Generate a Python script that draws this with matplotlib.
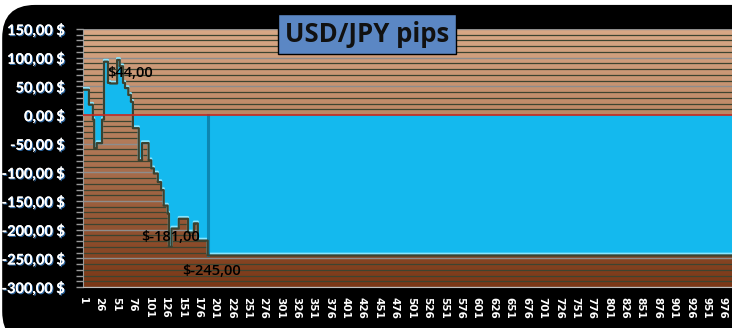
import numpy as np
import matplotlib
matplotlib.use('Agg')
import matplotlib.pyplot as plt
from matplotlib.patches import FancyBboxPatch
import matplotlib.patheffects as pe

# run-length description of the pips series (category start, value)
seg_start = [1, 10, 16, 18, 22, 30, 33, 39, 42, 53, 57, 62, 65, 70, 74,
             77, 86, 91, 101, 105, 109, 115, 120, 124, 130, 132, 136, 147,
             161, 170, 176, 191]
seg_value = [44, 18, -8, -58, -49, -8, 93, 56, 55, 96, 85, 56, 47, 35, 23,
             -23, -79, -49, -79, -93, -102, -117, -131, -158, -172, -230,
             -198, -181, -205, -189, -219, -245]
n_cat = 990
tick_cats = list(range(1, 977, 25))
ytick_vals = list(range(-300, 151, 50))
labels_txt = ['$44,00', '$-181,00', '$-245,00']
labels_pos = [(38, 74), (89, -213), (152, -272)]

lengths = np.diff(seg_start + [n_cat + 1])
pips = np.repeat(seg_value, lengths)
cats = np.arange(1, n_cat + 1)

fig = plt.figure(figsize=(7.32, 3.28), dpi=100)
fig.patch.set_facecolor('white')
frame = FancyBboxPatch((0.003, -0.05), 1.05, 1.035, transform=fig.transFigure,
                       boxstyle='round,pad=0,rounding_size=0.045',
                       fc='black', ec='none', mutation_aspect=732/328, zorder=-5)
fig.patches.append(frame)

ax = fig.add_axes([83/732, 1-287/328, 1-83/732, (287-29)/328])
ax.set_zorder(2)
ax.set_xlim(1, n_cat)
ax.set_ylim(-300, 150)

# brown gradient background
grad = np.linspace(0, 1, 256).reshape(-1, 1)
top = np.array([216, 168, 134]) / 255
bot = np.array([122, 55, 22]) / 255
img = top + (bot - top) * grad[:, :, None] ** 1.1
ax.imshow(img, extent=[1, n_cat, -300, 150], aspect='auto', zorder=0)

for v in range(-300, 151, 10):
    if v % 50 == 0:
        ax.axhline(v, color='#8d8d8d', lw=1.0, zorder=1)
    else:
        ax.axhline(v, color='#3d4430', lw=0.9, zorder=1)

ax.fill_between(cats, pips, 0, step='post', color='#14b9ee', zorder=2,
                edgecolor='none')
ax.step(cats, pips + 3, where='post', color='#8ae6ff', lw=1.6, zorder=3)
ax.step(cats, pips, where='post', color='#3b4230', lw=1.6, zorder=4)
ax.axvline(191.5, ymin=(-245+300)/450, ymax=300/450, color='#0d86b0', lw=2.2, zorder=3)
ax.axhline(0, color='#c8281e', lw=1.2, zorder=5)

for t, (cx, cy) in zip(labels_txt, labels_pos):
    ax.text(cx, cy, t, fontsize=10.5, color='black', va='center', ha='left',
            family='Open Sans', fontweight='semibold', zorder=6)

ax.set_xticks(tick_cats)
ax.set_xticklabels([str(c) for c in tick_cats], rotation=-90, color='white',
                   fontsize=7.5, fontweight='bold', family='DejaVu Sans')
ax.set_yticks(ytick_vals)
ax.set_yticklabels(['%d,00 $' % v for v in ytick_vals], color='white',
                   fontsize=10.5, fontweight='bold', family='Lato')
for lab in ax.get_yticklabels():
    lab.set_path_effects([pe.withSimplePatchShadow(offset=(0.8, -0.8),
                          shadow_rgbFace='#2f6fb0', alpha=0.9), pe.Normal()])
ax.set_yticks(range(-300, 151, 10), minor=True)
ax.tick_params(axis='y', which='both', colors='#9a9a9a', length=5, width=1,
               labelcolor='white', pad=8)
ax.tick_params(axis='x', length=0, pad=7, labelcolor='white')
for s in ['top', 'right']:
    ax.spines[s].set_visible(False)
ax.spines['left'].set_color('#9a9a9a')
ax.spines['bottom'].set_color('#bdbdbd')

fig.text(367/732, 1-34/328, 'USD/JPY pips', fontsize=18.5, fontweight='bold',
         family='Open Sans', color='#111111', ha='center', va='center',
         bbox=dict(boxstyle='square,pad=0.25', fc='#5b87c4', ec='black', lw=1),
         zorder=10)

fig.savefig('out.png', dpi=100, facecolor=fig.get_facecolor())
